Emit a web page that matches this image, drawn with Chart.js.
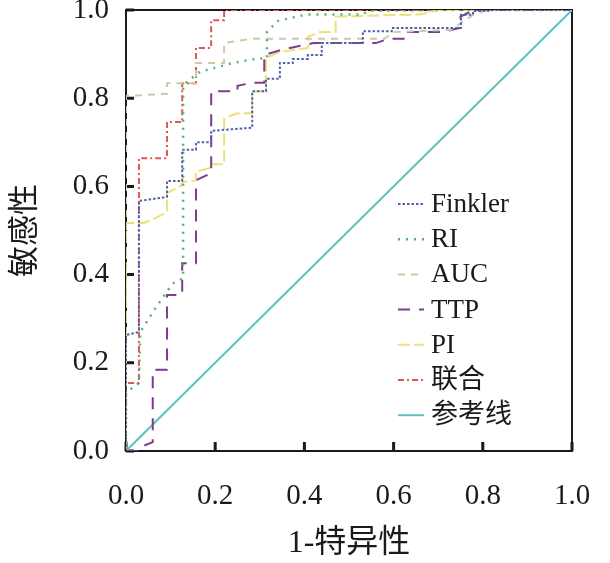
<!DOCTYPE html>
<html>
<head>
<meta charset="utf-8">
<script src="https://cdn.jsdelivr.net/npm/chart.js@4/dist/chart.umd.min.js"></script>
<style>
  html, body { margin: 0; padding: 0; background: #fff; }
  #wrap { width: 610px; height: 563px; }
</style>
</head>
<body>
<div id="wrap"><canvas id="chart1" width="610" height="563"></canvas></div>
<script>
// ROC curves, values (x = 1-特异性, y = 敏感性)
const finklerX = [0, 0, 0.029, 0.029, 0.092, 0.092, 0.126, 0.126, 0.157, 0.157, 0.191, 0.191, 0.283, 0.283, 0.314, 0.314, 0.345, 0.345, 0.374, 0.374, 0.408, 0.408, 0.439, 0.439, 0.531, 0.531, 0.596, 0.596, 0.751, 0.751, 0.778, 0.778, 0.812, 0.812, 1];
const finklerY = [0, 0.263, 0.27, 0.567, 0.576, 0.612, 0.612, 0.683, 0.683, 0.70, 0.70, 0.726, 0.733, 0.816, 0.816, 0.844, 0.844, 0.88, 0.88, 0.889, 0.889, 0.898, 0.898, 0.925, 0.925, 0.952, 0.952, 0.959, 0.959, 0.989, 0.989, 0.998, 0.998, 1, 1];

const riX = [0, 0, 0.029, 0.032, 0.07, 0.105, 0.128, 0.128, 0.166, 0.24, 0.295, 0.316, 0.316, 0.34, 0.405, 0.53, 0.545, 0.72, 1];
const riY = [0, 0.132, 0.154, 0.27, 0.33, 0.38, 0.392, 0.83, 0.86, 0.88, 0.89, 0.89, 0.95, 0.975, 0.99, 0.99, 0.998, 1, 1];

const aucX = [0, 0, 0.092, 0.092, 0.157, 0.157, 0.22, 0.22, 0.283, 0.58, 0.6, 0.73, 0.75, 0.78, 0.81, 1];
const aucY = [0, 0.805, 0.81, 0.834, 0.834, 0.88, 0.88, 0.925, 0.935, 0.935, 0.95, 0.955, 0.97, 0.99, 1, 1];

const ttpX = [0, 0.029, 0.035, 0.06, 0.06, 0.092, 0.092, 0.126, 0.126, 0.157, 0.157, 0.191, 0.191, 0.25, 0.25, 0.283, 0.31, 0.31, 0.35, 0.42, 0.56, 0.59, 0.625, 0.625, 0.71, 0.75, 0.75, 0.78, 1];
const ttpY = [0, 0, 0.01, 0.02, 0.184, 0.184, 0.354, 0.354, 0.426, 0.426, 0.614, 0.63, 0.816, 0.816, 0.828, 0.835, 0.835, 0.898, 0.91, 0.925, 0.925, 0.935, 0.935, 0.95, 0.95, 0.96, 0.985, 1, 1];

const piX = [0, 0, 0.04, 0.07, 0.092, 0.092, 0.126, 0.126, 0.157, 0.157, 0.191, 0.191, 0.22, 0.22, 0.25, 0.283, 0.283, 0.314, 0.314, 0.345, 0.374, 0.408, 0.408, 0.435, 0.47, 0.47, 0.66, 0.7, 1];
const piY = [0, 0.517, 0.517, 0.53, 0.542, 0.585, 0.603, 0.61, 0.613, 0.633, 0.643, 0.65, 0.65, 0.755, 0.766, 0.766, 0.816, 0.816, 0.891, 0.905, 0.909, 0.914, 0.94, 0.95, 0.95, 0.985, 0.99, 1, 1];

const lianheX = [0, 0, 0.029, 0.029, 0.092, 0.092, 0.126, 0.126, 0.157, 0.157, 0.191, 0.191, 0.22, 0.22, 1];
const lianheY = [0, 0.154, 0.154, 0.664, 0.664, 0.746, 0.746, 0.834, 0.834, 0.914, 0.914, 0.977, 0.977, 1, 1];

const refX = [0, 1];
const refY = [0, 1];

const seriesNames = ["Finkler", "RI", "AUC", "TTP", "PI", "联合", "参考线"];
const xTicks = [0, 0.2, 0.4, 0.6, 0.8, 1.0];
const yTicks = [0, 0.2, 0.4, 0.6, 0.8, 1.0];

const serif = "'Liberation Serif', 'Noto Sans CJK SC', serif";

function pts(xs, ys) {
    let out = [];
    for (let i = 0; i < xs.length; i++) {
        out.push({x: xs[i], y: ys[i]});
    }
    return out;
}

function line(label, xs, ys, color, dash, width) {
    return {
        label: label,
        data: pts(xs, ys),
        borderColor: color,
        backgroundColor: color,
        borderDash: dash,
        borderWidth: width,
        pointRadius: 0,
        fill: false,
        tension: 0
    };
}

// box round the plot plus short inward tick marks
const framePlugin = {
    id: "frame",
    beforeDatasetsDraw(chart) {
        const {ctx, chartArea: a, scales} = chart;
        ctx.save();
        ctx.strokeStyle = "#1a1a1a";
        ctx.lineWidth = 2;
        ctx.strokeRect(a.left, a.top, a.width, a.height);
        ctx.lineWidth = 3;
        ctx.beginPath();
        for (let v of yTicks) {
            const py = scales.y.getPixelForValue(v);
            ctx.moveTo(a.left, py);
            ctx.lineTo(a.left + 8, py);
        }
        for (let v of xTicks) {
            const px = scales.x.getPixelForValue(v);
            ctx.moveTo(px, a.bottom);
            ctx.lineTo(px, a.bottom - 9);
        }
        ctx.stroke();
        ctx.restore();
    }
};

// legend inside the plot, lower right
const legendPlugin = {
    id: "innerLegend",
    afterDatasetsDraw(chart) {
        const ctx = chart.ctx;
        ctx.save();
        ctx.font = "27px " + serif;
        ctx.textBaseline = "middle";
        ctx.fillStyle = "#1a1a1a";
        chart.data.datasets.forEach((ds, i) => {
            const y = 204 + i * 35.2;
            ctx.strokeStyle = ds.borderColor;
            ctx.lineWidth = ds.borderWidth;
            ctx.setLineDash(ds.borderDash || []);
            ctx.beginPath();
            ctx.moveTo(398, y);
            ctx.lineTo(424, y);
            ctx.stroke();
            ctx.setLineDash([]);
            ctx.fillText(ds.label, 431, y + 1);
        });
        ctx.restore();
    }
};

new Chart("chart1", {
    type: "line",
    data: {
        datasets: [
            line(seriesNames[0], finklerX, finklerY, "#4f63ad", [2.5, 2], 2),
            line(seriesNames[1], riX, riY, "#55b36a", [2, 6], 2.5),
            line(seriesNames[2], aucX, aucY, "#cfc8a6", [7, 6], 2),
            line(seriesNames[3], ttpX, ttpY, "#7d3c8f", [12, 9], 2),
            line(seriesNames[4], piX, piY, "#ede27a", [12, 4], 2),
            line(seriesNames[5], lianheX, lianheY, "#df5656", [6, 3, 2, 3], 2),
            line(seriesNames[6], refX, refY, "#5cc2c2", [], 2)
        ]
    },
    options: {
        responsive: false,
        animation: false,
        layout: {padding: {top: 10, right: 38, left: 0, bottom: 0}},
        plugins: {
            legend: {display: false},
            tooltip: {enabled: false}
        },
        scales: {
            x: {
                type: "linear",
                min: 0,
                max: 1,
                afterBuildTicks: s => { s.ticks = xTicks.map(v => ({value: v})); },
                afterFit: s => { s.height = 112; s.paddingLeft = 0; s.paddingRight = 0; },
                grid: {display: false, drawTicks: false},
                border: {display: false},
                ticks: {
                    callback: v => v.toFixed(1),
                    font: {family: serif, size: 29},
                    color: "#1a1a1a",
                    padding: 28,
                    maxRotation: 0
                },
                title: {
                    display: true,
                    text: "1-特异性",
                    font: {family: serif, size: 32},
                    color: "#1a1a1a",
                    padding: {top: 0, bottom: 0}
                }
            },
            y: {
                type: "linear",
                min: 0,
                max: 1,
                afterBuildTicks: s => { s.ticks = yTicks.map(v => ({value: v})); },
                afterFit: s => { s.width = 126; s.paddingTop = 0; s.paddingBottom = 0; },
                grid: {display: false, drawTicks: false},
                border: {display: false},
                ticks: {
                    callback: v => v.toFixed(1),
                    font: {family: serif, size: 29},
                    color: "#1a1a1a",
                    padding: 17
                },
                title: {
                    display: true,
                    text: "敏感性",
                    font: {family: serif, size: 31},
                    color: "#1a1a1a",
                    padding: {top: 7, bottom: 0}
                }
            }
        }
    },
    plugins: [framePlugin, legendPlugin]
});
</script>
</body>
</html>
